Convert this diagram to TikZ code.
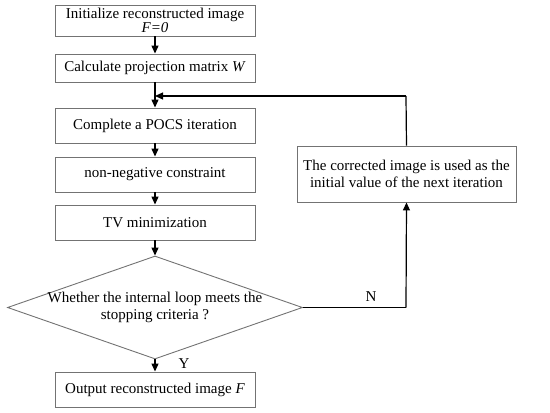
\documentclass[tikz,border=0pt]{standalone}
\usepackage{fontspec}
\setmainfont{Liberation Serif}
\usetikzlibrary{shapes.geometric,arrows.meta}
\begin{document}
\begin{tikzpicture}[x=1pt,y=-1pt,
  font=\fontsize{15}{17}\selectfont,
  box/.style={draw=black!55, line width=0.9pt, rectangle, inner sep=0pt, minimum width=200pt, align=center},
  dia/.style={draw=black!55, line width=0.9pt, diamond, inner sep=0pt, minimum width=295pt, minimum height=103pt},
  arr/.style={line width=1.2pt, -{Triangle[length=8pt,width=7pt]}},
  ln/.style={line width=1.2pt}]
\useasboundingbox (0,0) rectangle (550,413);
\node[box, minimum height=31pt] (b1) at (155,20.5) {Initialize reconstructed image\\[-3pt]\textit{F=0}};
\node[box, minimum height=28pt] (b2) at (155,68) {Calculate projection matrix \textit{W}};
\node[box, minimum height=35pt] (b3) at (155,125.5) {Complete a POCS iteration};
\node[box, minimum height=35pt] (b4) at (155,174.5) {non-negative constraint};
\node[box, minimum height=35pt] (b5) at (155,222.5) {TV minimization};
\node[dia] (d) at (155,307.5) {};
\node[align=center] (dt) at (155,307) {Whether the internal loop meets the\\stopping criteria ?};
\node[box, minimum height=35pt] (b6) at (155,389.5) {Output reconstructed image \textit{F}};
\node[box, minimum width=219pt, minimum height=56pt] (r) at (406.5,174) {The corrected image is used as the\\initial value of the next iteration};
\coordinate (loop) at (155,96);
\coordinate (tr) at (406,96);
\coordinate (br) at (406,307.5);
\draw[arr] (b1) -- (b2);
\draw[arr] (b2) -- (b3);
\draw[arr] (b3) -- (b4);
\draw[arr] (b4) -- (b5);
\draw[arr] (b5) -- (d);
\draw[arr] (d) -- (b6);
\draw[ln] (d.east) -- (br);
\draw[arr] (br) -- (r.south);
\draw[ln] (r.north) -- (tr);
\draw[arr] (tr) -- (loop);
\node (N) at (371,297) {N};
\node (Y) at (184,364) {Y};
\end{tikzpicture}
\end{document}
